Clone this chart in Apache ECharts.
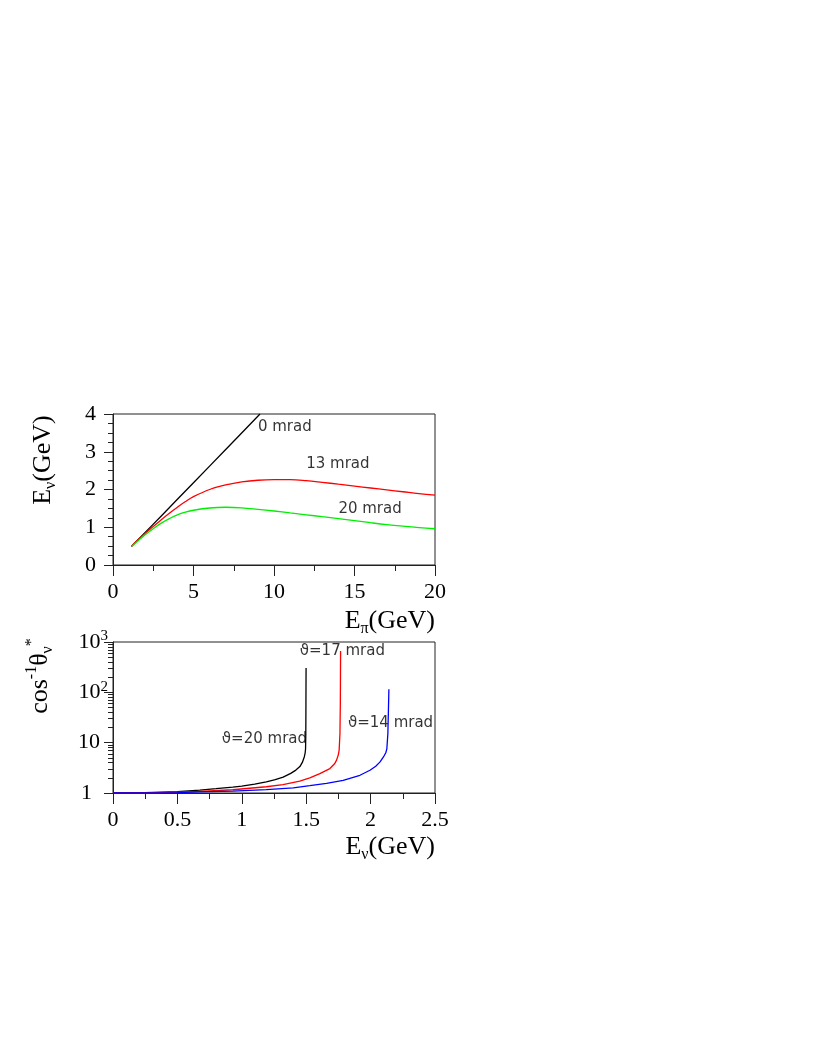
<!DOCTYPE html>
<html>
<head>
<meta charset="utf-8">
<script src="https://cdn.jsdelivr.net/npm/echarts@6/dist/echarts.min.js"></script>
<style>
html, body { margin: 0; padding: 0; background: #fff; }
#main { width: 817px; height: 1058px; }
</style>
</head>
<body>
<div id="main"></div>
<script>
// top panel: E_nu against E_pi for a few off-axis angles
const epi0 = [1.14, 3, 5, 7, 9.13];
const enu0 = [0.49, 1.30, 2.18, 3.06, 4.0];
const epi = [1.14, 1.5, 2, 2.5, 3, 3.5, 4, 4.5, 5, 6, 7, 8, 9, 10, 11, 12, 13, 14, 15, 16, 17, 18, 19, 20];
const enu13 = [0.49, 0.65, 0.84, 1.02, 1.2, 1.37, 1.53, 1.68, 1.81, 2.0, 2.12, 2.2, 2.245, 2.26, 2.26, 2.235, 2.19, 2.14, 2.09, 2.04, 1.99, 1.94, 1.89, 1.85];
const enu20 = [0.49, 0.62, 0.8, 0.96, 1.11, 1.23, 1.33, 1.4, 1.45, 1.51, 1.53, 1.515, 1.475, 1.43, 1.38, 1.33, 1.28, 1.23, 1.175, 1.12, 1.07, 1.03, 0.99, 0.96];
const topNotes = [[9.0, 3.64, "0 mrad"], [12.0, 2.68, "13 mrad"], [14.0, 1.49, "20 mrad"]];

// bottom panel: 1/cos(theta*) against E_nu
const ev20 = [0, 0.25, 0.5, 0.674, 0.8, 0.93, 1.0, 1.1, 1.19, 1.26, 1.321, 1.38, 1.42, 1.451, 1.47, 1.485, 1.492, 1.495, 1.497, 1.498, 1.499];
const cos20 = [1, 1.02, 1.06, 1.14, 1.22, 1.31, 1.37, 1.5, 1.66, 1.84, 2.06, 2.45, 2.85, 3.35, 4.05, 5.2, 6.3, 7.5, 15, 60, 304];
const ev17 = [0, 0.25, 0.5, 0.674, 0.93, 1.19, 1.32, 1.45, 1.528, 1.606, 1.684, 1.72, 1.736, 1.75, 1.756, 1.762, 1.765, 1.767];
const cos17 = [1, 1.01, 1.04, 1.08, 1.16, 1.33, 1.47, 1.72, 2.0, 2.43, 3.06, 3.8, 4.5, 5.8, 7.2, 15, 60, 660];
const ev14 = [0, 0.25, 0.5, 0.674, 0.93, 1.19, 1.4, 1.528, 1.658, 1.787, 1.917, 1.995, 2.04, 2.072, 2.1, 2.118, 2.126, 2.134, 2.138, 2.142];
const cos14 = [1, 1.01, 1.02, 1.05, 1.09, 1.17, 1.27, 1.4, 1.55, 1.79, 2.25, 2.83, 3.4, 4.1, 5.2, 6.3, 7.5, 15, 40, 115];
const bottomNotes = [[0.845, 11.7, "ϑ=20 mrad"], [1.45, 650, "ϑ=17 mrad"], [1.824, 24.6, "ϑ=14 mrad"]];

const serif = "Liberation Serif";

function zip(xs, ys) {
  return xs.map((x, i) => [x, ys[i]]);
}

function curve(name, xs, ys, color, idx) {
  return {
    name: name, type: "line", xAxisIndex: idx, yAxisIndex: idx,
    data: zip(xs, ys), showSymbol: false, symbol: "none",
    smooth: idx == 0 ? 0.4 : false,
    lineStyle: { color: color, width: 1.3 },
    silent: true
  };
}

function notes(list, idx) {
  return {
    type: "scatter", xAxisIndex: idx, yAxisIndex: idx, symbolSize: 0, silent: true,
    data: list.map(n => ({ value: [n[0], n[1]], name: n[2] })),
    label: {
      show: true, position: "right", distance: 0, formatter: "{b}",
      fontFamily: "DejaVu Sans", fontSize: 15, color: "#000"
    }
  };
}

const tickLabel = { fontFamily: serif, fontSize: 22, color: "#000" };
const axisLine = { show: true, lineStyle: { color: "#222", width: 1 } };

function xAxis(idx, max, step, minor) {
  return {
    type: "value", gridIndex: idx, min: 0, max: max, interval: step,
    axisLine: axisLine,
    axisTick: { show: true, length: 11, inside: false, lineStyle: { color: "#222" } },
    minorTick: { show: true, splitNumber: minor, length: 6, lineStyle: { color: "#222" } },
    splitLine: { show: false },
    axisLabel: Object.assign({ margin: 16 }, tickLabel)
  };
}

function titleText(x, y, rotated, text, align) {
  return {
    type: "text", x: x, y: y, rotation: rotated ? Math.PI / 2 : 0, silent: true,
    style: {
      text: text, align: align, verticalAlign: "middle",
      rich: {
        m: { fontFamily: serif, fontSize: 26, fill: "#000", lineHeight: 32 },
        s: { fontFamily: serif, fontSize: 16, fill: "#000", lineHeight: 16, verticalAlign: "bottom" },
        u: { fontFamily: serif, fontSize: 16, fill: "#000", lineHeight: 16, verticalAlign: "top" }
      }
    }
  };
}

const option = {
  animation: false,
  backgroundColor: "#fff",
  grid: [
    { left: 113, top: 414, width: 322, height: 151, show: true, borderColor: "#222", borderWidth: 1 },
    { left: 113, top: 642, width: 322, height: 151, show: true, borderColor: "#222", borderWidth: 1 }
  ],
  xAxis: [xAxis(0, 20, 5, 2), xAxis(1, 2.5, 0.5, 2)],
  yAxis: [
    {
      type: "value", gridIndex: 0, min: 0, max: 4, interval: 1,
      axisLine: axisLine,
      axisTick: { show: true, length: 9, lineStyle: { color: "#222" } },
      minorTick: { show: true, splitNumber: 4, length: 5, lineStyle: { color: "#222" } },
      splitLine: { show: false },
      axisLabel: Object.assign({ margin: 17 }, tickLabel)
    },
    {
      type: "log", gridIndex: 1, min: 1, max: 1000, logBase: 10,
      axisLine: axisLine,
      axisTick: { show: true, length: 9, lineStyle: { color: "#222" } },
      minorTick: { show: true, splitNumber: 9, length: 5, lineStyle: { color: "#222" } },
      splitLine: { show: false },
      axisLabel: {
        margin: 5,
        formatter: v => {
          if (v == 1) return "{one|1}";
          if (v == 10) return "{ten|10}";
          return "{a|10}{s|" + Math.round(Math.log10(v)) + "}";
        },
        rich: {
          a: { fontFamily: serif, fontSize: 22, color: "#000", lineHeight: 26 },
          one: { fontFamily: serif, fontSize: 22, color: "#000", lineHeight: 26, padding: [0, 16, 0, 0] },
          ten: { fontFamily: serif, fontSize: 22, color: "#000", lineHeight: 26, padding: [0, 8, 0, 0] },
          s: { fontFamily: serif, fontSize: 15, color: "#000", lineHeight: 14, verticalAlign: "top" }
        }
      }
    }
  ],
  series: [
    curve("0 mrad", epi0, enu0, "#000000", 0),
    curve("13 mrad", epi, enu13, "#ff0000", 0),
    curve("20 mrad", epi, enu20, "#00ee00", 0),
    notes(topNotes, 0),
    curve("20 mrad", ev20, cos20, "#000000", 1),
    curve("17 mrad", ev17, cos17, "#ff0000", 1),
    curve("14 mrad", ev14, cos14, "#0000ff", 1),
    notes(bottomNotes, 1)
  ],
  graphic: [
    titleText(43, 460, true, "{m|E}{s|ν}{m|(GeV)}", "center"),
    titleText(435, 621, false, "{m|E}{s|π}{m|(GeV)}", "right"),
    titleText(40, 676, true, "{m|cos}{u|-1}{m|θ}{s|ν}{u|*}", "center"),
    titleText(435, 847, false, "{m|E}{s|ν}{m|(GeV)}", "right")
  ]
};

let chart = echarts.init(document.getElementById("main"));
chart.setOption(option);
</script>
</body>
</html>
